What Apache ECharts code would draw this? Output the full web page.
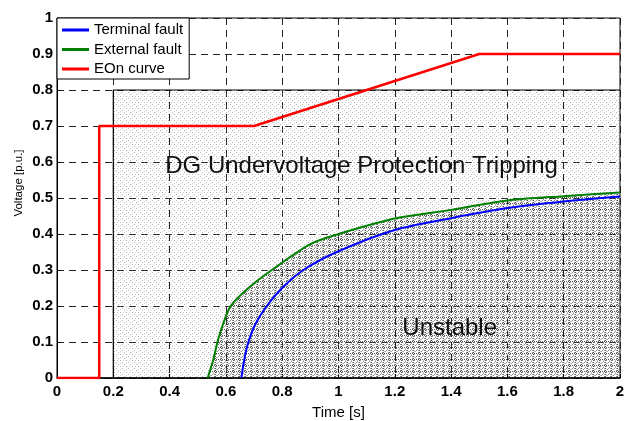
<!DOCTYPE html>
<html>
<head>
<meta charset="utf-8">
<script src="https://cdn.jsdelivr.net/npm/echarts@6/dist/echarts.min.js"></script>
<style>
  html, body { margin: 0; padding: 0; background: #fff; }
  #chart { width: 625px; height: 421px; }
</style>
</head>
<body>
<div id="chart"></div>
<script>
// EOn curve (time s, voltage p.u.)
const eonT = [0, 0.15, 0.15, 0.7, 1.5, 2]
const eonV = [0, 0, 0.7, 0.7, 0.9, 0.9]

// external fault
const externalT = [0.535, 0.555, 0.57, 0.59, 0.617, 0.68, 0.763, 0.9, 1.0, 1.2, 1.4, 1.6, 1.8, 2.0]
const externalV = [0, 0.05, 0.1, 0.15, 0.2, 0.25, 0.3, 0.372, 0.4, 0.443, 0.467, 0.493, 0.505, 0.515]

// terminal fault
const terminalT = [0.655, 0.665, 0.68, 0.705, 0.745, 0.8, 0.875, 1.0, 1.2, 1.4, 1.6, 1.8, 2.0]
const terminalV = [0, 0.05, 0.1, 0.15, 0.2, 0.25, 0.3, 0.352, 0.411, 0.444, 0.472, 0.49, 0.504]

// undervoltage tripping zone outline
const tripT = [0.2, 0.2, 2]
const tripV = [0, 0.8, 0.8]

const labels = ['DG Undervoltage Protection Tripping', 'Unstable']
const labelT = [1.082, 1.395]
const labelV = [0.589, 0.139]

const xTicks = [0, 0.2, 0.4, 0.6, 0.8, 1, 1.2, 1.4, 1.6, 1.8, 2]
const yTicks = [0, 0.1, 0.2, 0.3, 0.4, 0.5, 0.6, 0.7, 0.8, 0.9, 1]

const zip = (xs, ys) => xs.map((x, i) => [x, ys[i]])

const FONT = '"Liberation Sans", Arial, sans-serif'

function makePattern(dense) {
  const c = document.createElement('canvas')
  c.width = 6
  c.height = 6
  const ctx = c.getContext('2d')
  ctx.fillStyle = 'rgba(120,120,120,0.55)'
  for (let i = 0; i < 6; i += 2) ctx.fillRect(i, i, 1, 1)
  ctx.fillStyle = 'rgba(160,160,160,0.45)'
  ctx.fillRect(3, 0, 1, 1)
  ctx.fillRect(0, 3, 1, 1)
  if (dense) {
    ctx.fillStyle = 'rgba(30,30,30,0.75)'
    for (let i = 0; i < 6; i += 2) {
      ctx.fillRect(i, 5, 1, 1)
      ctx.fillRect(5, i, 1, 1)
    }
    ctx.fillStyle = 'rgba(80,80,80,0.55)'
    ctx.fillRect(1, 3, 1, 1)
    ctx.fillRect(3, 1, 1, 1)
    ctx.fillRect(4, 2, 1, 1)
  }
  return { image: c, repeat: 'repeat' }
}

const fmt = v => String(+Number(v).toFixed(1))

const chart = echarts.init(document.getElementById('chart'), null, { renderer: 'canvas' })

chart.setOption({
  animation: false,
  backgroundColor: '#fff',
  textStyle: { fontFamily: FONT },
  grid: {
    left: 57, right: 5, top: 18, bottom: 43,
    outerBoundsMode: 'none',
    show: true, borderColor: '#000', borderWidth: 1, backgroundColor: 'transparent'
  },
  legend: {
    orient: 'vertical',
    left: 57, top: 18,
    data: ['Terminal fault', 'External fault', 'EOn curve'],
    icon: 'rect',
    backgroundColor: '#fff',
    borderColor: '#000', borderWidth: 1, borderRadius: 0,
    padding: [4, 6, 2, 5],
    itemGap: 3.5,
    itemWidth: 27, itemHeight: 3,
    textStyle: { fontFamily: FONT, fontSize: 15, color: '#000', lineHeight: 16 }
  },
  xAxis: {
    type: 'value',
    min: 0, max: 2, interval: 0.2,
    name: 'Time [s]',
    nameLocation: 'middle',
    nameGap: 27,
    nameMoveOverlap: false,
    nameTextStyle: { fontFamily: FONT, fontSize: 15, color: '#000', verticalAlign: 'top' },
    axisLine: { show: true, lineStyle: { color: '#000', width: 1.5 } },
    axisTick: { show: true, inside: true, length: 4, lineStyle: { color: '#000' } },
    axisLabel: {
      color: '#000', fontFamily: FONT, fontSize: 15, fontWeight: 'bold', margin: 6,
      formatter: v => xTicks.includes(+fmt(v)) ? fmt(v) : ''
    },
    splitLine: { show: true, lineStyle: { color: '#222', type: [7, 5], width: 1 } }
  },
  yAxis: {
    type: 'value',
    min: 0, max: 1, interval: 0.1,
    name: 'Voltage [p.u.]',
    nameLocation: 'middle',
    nameGap: 32,
    nameMoveOverlap: false,
    nameTextStyle: { fontFamily: FONT, fontSize: 11.5, color: '#000', padding: [0, 0, 0, 30] },
    axisLine: { show: true, lineStyle: { color: '#000', width: 1 } },
    axisTick: { show: true, inside: true, length: 4, lineStyle: { color: '#000' } },
    axisLabel: {
      color: '#000', fontFamily: FONT, fontSize: 15, fontWeight: 'bold', margin: 4,
      formatter: v => yTicks.includes(+fmt(v)) ? fmt(v) : ''
    },
    splitLine: { show: true, lineStyle: { color: '#222', type: [7, 5], width: 1 } }
  },
  series: [
    {
      name: 'trip zone',
      type: 'line',
      data: zip(tripT, tripV),
      symbol: 'none',
      silent: true,
      lineStyle: { color: '#000', width: 1.2 },
      areaStyle: { color: makePattern(false), opacity: 1, origin: 'start' },
      z: 1,
      markPoint: {
        symbol: 'circle',
        symbolSize: 0,
        silent: true,
        label: {
          show: true, position: 'inside', color: '#111',
          fontFamily: FONT, fontSize: 24,
          formatter: p => p.name
        },
        data: labels.map((name, i) => ({ name, coord: [labelT[i], labelV[i]] }))
      }
    },
    {
      name: 'unstable zone',
      type: 'line',
      data: zip(externalT, externalV),
      symbol: 'none',
      silent: true,
      lineStyle: { width: 0 },
      areaStyle: { color: makePattern(true), opacity: 1, origin: 'start' },
      z: 2
    },
    {
      name: 'EOn curve',
      type: 'line',
      data: zip(eonT, eonV),
      symbol: 'none',
      color: '#ff0000',
      lineStyle: { color: '#ff0000', width: 2.5 },
      z: 5
    },
    {
      name: 'External fault',
      type: 'line',
      data: zip(externalT, externalV),
      symbol: 'none',
      smooth: 0.3,
      color: '#008000',
      lineStyle: { color: '#008000', width: 2 },
      z: 4
    },
    {
      name: 'Terminal fault',
      type: 'line',
      data: zip(terminalT, terminalV),
      symbol: 'none',
      smooth: 0.3,
      color: '#0000ff',
      lineStyle: { color: '#0000ff', width: 2 },
      z: 4
    }
  ]
})
</script>
</body>
</html>
